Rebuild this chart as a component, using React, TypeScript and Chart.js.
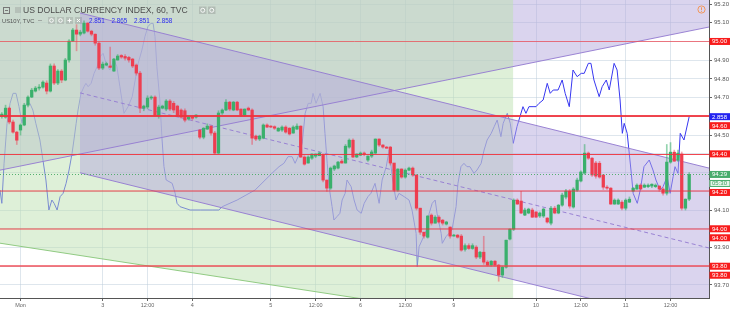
import React, { useEffect, useRef } from 'react';
import { Chart, registerables } from 'chart.js';

Chart.register(...registerables);

// ---- DXY hourly candles (bar index FIRST_BAR .. FIRST_BAR + n - 1) ----
const FIRST_BAR = -5;
const OPEN = [
  94.600, 94.596, 94.644, 94.570, 94.516, 94.527, 94.554, 94.660, 94.703, 94.735,
  94.751, 94.756, 94.778, 94.735, 94.869, 94.778, 94.842, 94.794, 94.901, 95.002,
  95.061, 95.039, 95.045, 95.098, 95.055, 95.039, 94.991, 94.858, 94.874, 94.869,
  94.842, 94.901, 94.925, 94.920, 94.915, 94.906, 94.874, 94.831, 94.644, 94.650,
  94.698, 94.703, 94.602, 94.644, 94.639, 94.682, 94.670, 94.655, 94.634, 94.630,
  94.586, 94.596, 94.596, 94.527, 94.489, 94.532, 94.548, 94.511, 94.404, 94.618,
  94.634, 94.676, 94.634, 94.676, 94.639, 94.607, 94.644, 94.634, 94.495, 94.479,
  94.484, 94.554, 94.548, 94.545, 94.522, 94.527, 94.543, 94.537, 94.511, 94.532,
  94.548, 94.383, 94.351, 94.377, 94.388, 94.390, 94.393, 94.260, 94.217, 94.319,
  94.324, 94.361, 94.351, 94.436, 94.473, 94.383, 94.393, 94.404, 94.367, 94.388,
  94.404, 94.479, 94.447, 94.436, 94.436, 94.351, 94.206, 94.319, 94.276, 94.313,
  94.324, 94.287, 94.110, 93.982, 93.955, 94.073, 94.030, 94.062, 94.046, 94.025,
  94.009, 93.961, 93.966, 93.961, 93.890, 93.910, 93.895, 93.902, 93.849, 93.875,
  93.822, 93.806, 93.827, 93.806, 93.753, 93.795, 93.945, 93.998, 94.153, 94.148,
  94.073, 94.084, 94.100, 94.090, 94.068, 94.068, 94.057, 94.030, 94.110, 94.084,
  94.126, 94.169, 94.201, 94.116, 94.206, 94.255, 94.297, 94.404, 94.377, 94.351,
  94.350, 94.287, 94.222, 94.217, 94.132, 94.132, 94.142, 94.110, 94.142, 94.201,
  94.212, 94.233, 94.222, 94.225, 94.228, 94.225, 94.228, 94.212, 94.190, 94.356,
  94.409, 94.367, 94.399, 94.110, 94.158,
];
const CLOSE = [
  94.612, 94.644, 94.570, 94.516, 94.473, 94.554, 94.660, 94.703, 94.740, 94.751,
  94.756, 94.783, 94.735, 94.869, 94.778, 94.842, 94.794, 94.901, 95.002, 95.061,
  95.039, 95.050, 95.098, 95.055, 95.039, 94.991, 94.858, 94.879, 94.882, 94.862,
  94.906, 94.922, 94.917, 94.911, 94.901, 94.869, 94.831, 94.644, 94.655, 94.698,
  94.703, 94.607, 94.650, 94.655, 94.682, 94.639, 94.634, 94.607, 94.596, 94.580,
  94.596, 94.590, 94.607, 94.489, 94.537, 94.548, 94.511, 94.404, 94.618, 94.634,
  94.676, 94.639, 94.676, 94.634, 94.607, 94.639, 94.634, 94.484, 94.479, 94.495,
  94.554, 94.543, 94.543, 94.537, 94.537, 94.543, 94.516, 94.506, 94.543, 94.548,
  94.383, 94.345, 94.383, 94.399, 94.399, 94.404, 94.260, 94.217, 94.324, 94.335,
  94.356, 94.351, 94.441, 94.473, 94.383, 94.399, 94.404, 94.399, 94.388, 94.410,
  94.479, 94.447, 94.436, 94.430, 94.351, 94.206, 94.319, 94.276, 94.313, 94.324,
  94.287, 94.110, 93.982, 93.961, 94.068, 94.030, 94.062, 94.036, 94.030, 94.036,
  93.961, 93.966, 93.955, 93.886, 93.910, 93.895, 93.910, 93.849, 93.875, 93.822,
  93.806, 93.827, 93.806, 93.753, 93.795, 93.939, 93.998, 94.153, 94.132, 94.084,
  94.100, 94.105, 94.062, 94.062, 94.084, 94.105, 94.036, 94.110, 94.084, 94.126,
  94.180, 94.201, 94.121, 94.212, 94.260, 94.303, 94.404, 94.377, 94.287, 94.281,
  94.276, 94.222, 94.217, 94.132, 94.153, 94.153, 94.110, 94.153, 94.158, 94.217,
  94.233, 94.212, 94.233, 94.233, 94.238, 94.233, 94.212, 94.190, 94.356, 94.409,
  94.361, 94.404, 94.110, 94.158, 94.290,
];
const HIGH = [
  94.62, 94.66, 94.65, 94.58, 94.52, 94.56, 94.67, 94.71, 94.75, 94.76,
  94.77, 94.79, 94.79, 94.88, 94.88, 94.85, 94.85, 94.91, 95.01, 95.07,
  95.09, 95.06, 95.11, 95.10, 95.06, 95.04, 95.00, 94.89, 94.89, 94.97,
  94.91, 94.93, 94.93, 94.93, 94.92, 94.91, 94.88, 94.84, 94.66, 94.71,
  94.71, 94.71, 94.66, 94.66, 94.69, 94.69, 94.68, 94.66, 94.64, 94.64,
  94.60, 94.60, 94.61, 94.53, 94.54, 94.56, 94.55, 94.52, 94.63, 94.64,
  94.69, 94.68, 94.68, 94.68, 94.64, 94.64, 94.65, 94.64, 94.50, 94.50,
  94.56, 94.56, 94.55, 94.55, 94.54, 94.55, 94.55, 94.54, 94.55, 94.56,
  94.55, 94.39, 94.39, 94.40, 94.40, 94.41, 94.40, 94.26, 94.33, 94.34,
  94.36, 94.37, 94.45, 94.48, 94.48, 94.40, 94.41, 94.41, 94.39, 94.42,
  94.48, 94.48, 94.45, 94.44, 94.44, 94.35, 94.32, 94.32, 94.32, 94.33,
  94.33, 94.29, 94.11, 93.98, 94.07, 94.08, 94.07, 94.07, 94.05, 94.04,
  94.01, 93.97, 93.97, 93.97, 93.92, 93.92, 93.92, 93.91, 93.88, 93.96,
  93.83, 93.83, 93.83, 93.81, 93.80, 93.94, 94.00, 94.16, 94.16, 94.20,
  94.11, 94.11, 94.11, 94.09, 94.09, 94.11, 94.06, 94.12, 94.12, 94.13,
  94.19, 94.21, 94.21, 94.22, 94.27, 94.31, 94.45, 94.41, 94.38, 94.36,
  94.36, 94.29, 94.23, 94.22, 94.16, 94.16, 94.15, 94.16, 94.17, 94.22,
  94.24, 94.24, 94.24, 94.24, 94.24, 94.24, 94.23, 94.22, 94.45, 94.46,
  94.42, 94.42, 94.41, 94.16, 94.30,
];
const LOW = [
  94.59, 94.59, 94.56, 94.51, 94.45, 94.50, 94.55, 94.65, 94.70, 94.73,
  94.74, 94.75, 94.72, 94.73, 94.77, 94.77, 94.78, 94.79, 94.89, 95.00,
  94.95, 95.03, 95.04, 95.05, 95.03, 94.98, 94.85, 94.85, 94.87, 94.86,
  94.84, 94.90, 94.91, 94.90, 94.89, 94.86, 94.82, 94.62, 94.63, 94.64,
  94.69, 94.60, 94.59, 94.64, 94.63, 94.63, 94.62, 94.60, 94.59, 94.57,
  94.58, 94.58, 94.59, 94.48, 94.48, 94.53, 94.50, 94.40, 94.40, 94.61,
  94.63, 94.63, 94.63, 94.63, 94.60, 94.60, 94.63, 94.45, 94.47, 94.47,
  94.48, 94.54, 94.54, 94.53, 94.52, 94.52, 94.51, 94.50, 94.51, 94.53,
  94.38, 94.34, 94.35, 94.37, 94.38, 94.39, 94.25, 94.20, 94.21, 94.31,
  94.32, 94.35, 94.35, 94.43, 94.38, 94.38, 94.39, 94.39, 94.36, 94.38,
  94.40, 94.44, 94.43, 94.43, 94.34, 94.20, 94.20, 94.27, 94.27, 94.31,
  94.28, 94.10, 93.97, 93.95, 93.95, 94.02, 94.03, 94.03, 94.02, 94.02,
  93.95, 93.96, 93.95, 93.88, 93.88, 93.89, 93.89, 93.84, 93.84, 93.81,
  93.80, 93.80, 93.80, 93.72, 93.74, 93.79, 93.94, 93.99, 94.13, 94.08,
  94.07, 94.08, 94.06, 94.06, 94.06, 94.06, 94.03, 94.02, 94.08, 94.08,
  94.12, 94.16, 94.11, 94.11, 94.20, 94.25, 94.29, 94.37, 94.28, 94.27,
  94.27, 94.21, 94.21, 94.13, 94.13, 94.13, 94.10, 94.10, 94.14, 94.20,
  94.21, 94.21, 94.22, 94.22, 94.22, 94.22, 94.20, 94.18, 94.18, 94.35,
  94.36, 94.36, 94.10, 94.10, 94.15,
];

// ---- US10Y overlay (own hidden scale) ----
const US10Y_BARS = [
  -5.5, -5.0, -4.4, -3.6, -2.8, -2.0, -1.2, -0.4, 0.4, 1.2,
  1.7, 2.5, 3.3, 4.1, 5.2, 6.0, 6.8, 7.6, 8.4, 9.0,
  9.8, 10.6, 11.4, 12.2, 13.0, 13.8, 14.3, 14.9, 15.4, 16.2,
  17.0, 17.5, 18.1, 18.9, 19.7, 20.5, 21.3, 22.1, 22.9, 23.9,
  25.0, 25.8, 26.6, 27.7, 28.8, 29.9, 30.7, 31.5, 32.5, 33.3,
  34.1, 34.9, 35.5, 36.0, 36.5, 37.3, 37.9, 38.4, 39.0, 40.6,
  41.4, 41.9, 42.7, 45.4, 48.1, 51.3, 53.1, 54.0, 58.0, 62.8,
  67.3, 69.2, 70.5, 71.6, 72.7, 73.5, 74.3, 75.4, 76.2, 77.0,
  77.8, 78.3, 79.1, 80.2, 81.0, 81.5, 82.1, 82.6, 83.4, 83.9,
  84.7, 85.5, 86.1, 86.9, 87.4, 88.5, 89.3, 90.1, 91.2, 92.0,
  93.0, 93.8, 94.9, 96.0, 96.8, 97.9, 98.7, 99.5, 100.5, 101.3,
  102.7, 104.0, 104.8, 105.9, 106.2, 106.7, 107.5, 108.6, 109.4, 110.2,
  111.0, 111.5, 112.6, 112.9, 113.9, 114.7, 115.5, 116.6, 117.1, 117.9,
  118.7, 119.5, 120.3, 121.4, 122.2, 123.3, 124.1, 124.9, 126.0, 126.8,
  127.6, 128.6, 129.2, 130.3, 131.1, 131.9, 132.9, 133.7, 134.5, 135.3,
  136.1, 137.2, 138.0, 138.8, 139.9, 141.0, 141.8, 142.6, 143.9, 145.0,
  145.8, 146.9, 147.9, 149.0, 150.1, 150.9, 152.0, 152.7, 153.5, 154.9,
  155.7, 156.8, 157.6, 158.9, 159.7, 160.5, 161.1, 161.6, 162.4, 163.5,
  164.0, 165.1, 165.9, 166.9, 168.3, 169.3, 170.1, 171.2, 172.0, 173.1,
  173.9, 174.7, 175.2, 176.0, 176.6, 177.6, 179.0,
];
const US10Y_VALUES = [
  2.836, 2.832, 2.844, 2.856, 2.862, 2.865, 2.865, 2.861, 2.856, 2.861,
  2.862, 2.862, 2.860, 2.856, 2.851, 2.845, 2.839, 2.830, 2.833, 2.832,
  2.830, 2.834, 2.835, 2.838, 2.842, 2.847, 2.851, 2.856, 2.860, 2.865,
  2.867, 2.868, 2.867, 2.868, 2.871, 2.873, 2.876, 2.877, 2.874, 2.872,
  2.875, 2.873, 2.867, 2.859, 2.861, 2.864, 2.869, 2.874, 2.878, 2.882,
  2.885, 2.886, 2.886, 2.882, 2.873, 2.863, 2.851, 2.843, 2.839, 2.838,
  2.835, 2.832, 2.831, 2.830, 2.830, 2.830, 2.830, 2.831, 2.833, 2.836,
  2.841, 2.843, 2.844, 2.846, 2.846, 2.844, 2.846, 2.850, 2.859, 2.862,
  2.862, 2.865, 2.862, 2.865, 2.861, 2.853, 2.844, 2.837, 2.831, 2.827,
  2.828, 2.829, 2.833, 2.835, 2.839, 2.837, 2.833, 2.830, 2.829, 2.832,
  2.834, 2.835, 2.838, 2.832, 2.839, 2.843, 2.848, 2.840, 2.833, 2.835,
  2.834, 2.833, 2.830, 2.823, 2.813, 2.819, 2.821, 2.824, 2.829, 2.832,
  2.833, 2.829, 2.823, 2.820, 2.822, 2.823, 2.824, 2.831, 2.838, 2.843,
  2.844, 2.843, 2.843, 2.841, 2.842, 2.844, 2.848, 2.851, 2.853, 2.855,
  2.857, 2.852, 2.856, 2.859, 2.856, 2.850, 2.855, 2.858, 2.861, 2.859,
  2.861, 2.861, 2.861, 2.862, 2.863, 2.868, 2.865, 2.866, 2.866, 2.869,
  2.865, 2.861, 2.872, 2.870, 2.871, 2.871, 2.874, 2.874, 2.869, 2.864,
  2.867, 2.869, 2.866, 2.874, 2.872, 2.863, 2.853, 2.856, 2.853, 2.841,
  2.835, 2.832, 2.836, 2.843, 2.845, 2.842, 2.839, 2.836, 2.837, 2.840,
  2.835, 2.840, 2.843, 2.841, 2.853, 2.851, 2.858,
];
const US10Y_LEGEND = ['2.851', '2.865', '2.851', '2.858'];
const US10Y_LAST = 2.858;

// ---- axes ----
const X_MIN = -5.49;
const X_MAX = 184.3;
const PRICE_MIN = 93.6304;
const PRICE_MAX = 95.2214;
const YIELD_MIN = 2.8036;
const YIELD_MAX = 2.893;
const X_TICK_BARS = [0, 22, 34, 46, 67, 79, 91, 103, 116, 138, 150, 162, 174];
const X_TICK_LABELS = ['Mon', '3', '12:00', '4', '5', '12:00', '6', '12:00', '9', '10', '12:00', '11', '12:00'];
const Y_TICKS = [93.7, 93.8, 93.9, 94.0, 94.1, 94.2, 94.3, 94.4, 94.5, 94.6, 94.7, 94.8, 94.9, 95.0, 95.1, 95.2];
const Y_TICK_LABELS = ['93.70', '', '93.90', '', '94.10', '', '', '', '94.50', '', '94.70', '94.80', '94.90', '', '95.10', '95.20'];

// ---- drawings ----
const LEVELS = [95.0, 94.6, 94.4, 94.2, 94.0, 93.8];
const LEVEL_LABELS = ['95.00', '94.60', '94.40', '94.20', '94.00', '94.00', '93.80', '93.80'];
const LEVEL_LABEL_VALUES = [95.0, 94.6, 94.4, 94.2, 94.0, 94.0, 93.8, 93.8];
const LAST_PRICE = 94.29;
const COUNTDOWN = '05:30';
// descending parallel channel: upper line from (bar, price) to (bar, price), width in price
const CHANNEL_BARS = [15.93, 184.3];
const CHANNEL_UPPER = [95.152, 94.324];
const CHANNEL_WIDTH = 0.853;
// rising trend line (purple zone above it)
const RISING_BARS = [-5.49, 184.3];
const RISING_PRICES = [94.313, 95.077];
// green zone: left of its end bar, above its lower boundary line
const GREEN_BARS = [-5.49, 131.86];
const GREEN_LOWER = [93.923, 93.502];

const TITLE = 'US DOLLAR CURRENCY INDEX, 60, TVC';
const SUBTITLE = 'US10Y, TVC';

const FONT = "'Liberation Sans', Arial, sans-serif";
const RED = 'rgb(238,62,80)';
const GREEN = 'rgb(58,176,108)';
const PURPLE_FILL = 'rgba(181,169,222,0.5)';
const GREEN_FILL = 'rgba(190,226,178,0.5)';

export default function App() {
  const ref = useRef<HTMLCanvasElement>(null);

  useEffect(() => {
    const canvas = ref.current;
    if (!canvas) return;
    const bars = OPEN.map((_, k) => FIRST_BAR + k);
    const up = OPEN.map((o, k) => CLOSE[k] >= o);

    const poly = (ctx: CanvasRenderingContext2D, pts: number[][]) => {
      ctx.beginPath();
      pts.forEach((p, k) => (k ? ctx.lineTo(p[0], p[1]) : ctx.moveTo(p[0], p[1])));
      ctx.closePath();
      ctx.fill();
    };
    const seg = (ctx: CanvasRenderingContext2D, x1: number, y1: number, x2: number, y2: number) => {
      ctx.beginPath();
      ctx.moveTo(x1, y1);
      ctx.lineTo(x2, y2);
      ctx.stroke();
    };

    const overlay = {
      id: 'overlay',
      afterDatasetDraw(chart: any, args: any) {
        if (args.index !== 2) return;
        const { ctx, chartArea: a, scales } = chart;
        const X = (v: number) => scales.x.getPixelForValue(v);
        const Y = (v: number) => scales.y.getPixelForValue(v);
        ctx.save();
        ctx.beginPath();
        ctx.rect(a.left, a.top, a.right - a.left, a.bottom - a.top);
        ctx.clip();
        // purple zone above rising line
        ctx.fillStyle = PURPLE_FILL;
        const rx1 = X(RISING_BARS[0]), rx2 = X(RISING_BARS[1]);
        const ry1 = Y(RISING_PRICES[0]), ry2 = Y(RISING_PRICES[1]);
        poly(ctx, [[rx1, a.top], [rx2, a.top], [rx2, ry2], [rx1, ry1]]);
        // green zone
        ctx.fillStyle = GREEN_FILL;
        const gx1 = X(GREEN_BARS[0]), gx2 = X(GREEN_BARS[1]);
        const gy1 = Y(GREEN_LOWER[0]), gy2 = Y(GREEN_LOWER[1]);
        poly(ctx, [[gx1, a.top], [gx2, a.top], [gx2, gy2], [gx1, gy1]]);
        // channel
        ctx.fillStyle = PURPLE_FILL;
        const cx1 = X(CHANNEL_BARS[0]), cx2 = X(CHANNEL_BARS[1]);
        const u1 = Y(CHANNEL_UPPER[0]), u2 = Y(CHANNEL_UPPER[1]);
        const l1 = Y(CHANNEL_UPPER[0] - CHANNEL_WIDTH), l2 = Y(CHANNEL_UPPER[1] - CHANNEL_WIDTH);
        const m1 = Y(CHANNEL_UPPER[0] - CHANNEL_WIDTH / 2), m2 = Y(CHANNEL_UPPER[1] - CHANNEL_WIDTH / 2);
        poly(ctx, [[cx1, u1], [cx2, u2], [cx2, l2], [cx1, l1]]);
        // strokes
        ctx.lineWidth = 1;
        ctx.strokeStyle = 'rgba(150,125,210,0.95)';
        seg(ctx, rx1, ry1, rx2, ry2);
        seg(ctx, cx1, u1, cx2, u2);
        seg(ctx, cx1, l1, cx2, l2);
        ctx.setLineDash([4, 3]);
        seg(ctx, cx1, m1, cx2, m2);
        ctx.setLineDash([]);
        ctx.strokeStyle = 'rgba(140,200,125,0.95)';
        seg(ctx, gx1, gy1, gx2, gy2);
        ctx.restore();
      },
      afterDatasetsDraw(chart: any) {
        const { ctx, chartArea: a, scales } = chart;
        const Y = (v: number) => scales.y.getPixelForValue(v);
        ctx.save();
        ctx.beginPath();
        ctx.rect(a.left, a.top, a.right - a.left, a.bottom - a.top);
        ctx.clip();
        const widths = [1, 2, 1, 1.2, 1.2, 2];
        LEVELS.forEach((v, k) => {
          ctx.lineWidth = widths[k];
          ctx.strokeStyle = k === 0 || k === 5 ? 'rgba(240,70,80,0.7)' : 'rgba(240,50,60,0.9)';
          const y = Math.round(Y(v)) + (widths[k] === 1 ? 0.5 : 0);
          seg(ctx, a.left, y, a.right, y);
        });
        ctx.setLineDash([1, 2]);
        ctx.lineWidth = 1;
        ctx.strokeStyle = 'rgba(70,170,100,0.9)';
        const ly = Math.round(Y(LAST_PRICE)) + 0.5;
        seg(ctx, a.left, ly, a.right, ly);
        ctx.restore();
      },
      afterDraw(chart: any) {
        const { ctx, chartArea: a, scales } = chart;
        const Y = (v: number) => scales.y.getPixelForValue(v);
        ctx.save();
        // y tick labels
        ctx.font = `6px ${FONT}`;
        ctx.textBaseline = 'middle';
        ctx.textAlign = 'left';
        ctx.fillStyle = '#555';
        Y_TICKS.forEach((v, k) => {
          if (Y_TICK_LABELS[k]) ctx.fillText(Y_TICK_LABELS[k], a.right + 5, Y(v));
        });
        // right axis price labels (the overlay's label takes priority on ties)
        type L = { y: number; text: string; kind: string; pri: number };
        const items: L[] = [];
        items.push({ y: scales.y2.getPixelForValue(US10Y_LAST), text: US10Y_LEGEND[3], kind: 'blue', pri: -2 });
        LEVEL_LABEL_VALUES.forEach((v, k) => items.push({ y: Y(v), text: LEVEL_LABELS[k], kind: 'red', pri: 0 }));
        items.push({ y: Y(LAST_PRICE), text: LAST_PRICE.toFixed(2), kind: 'green', pri: 0 });
        items.push({ y: Y(LAST_PRICE) + 0.1, text: COUNTDOWN, kind: 'timer', pri: 0 });
        items.sort((p, q) => p.y + p.pri - (q.y + q.pri));
        for (let k = 1; k < items.length; k++) {
          if (items[k].y - items[k - 1].y < 9) items[k].y = items[k - 1].y + 9;
        }
        items.forEach((it) => {
          const bx = a.right + 0.5, bw = 21, bh = 7;
          const by = it.y - bh / 2;
          let bg = '#f81c1c', fg = '#fff';
          if (it.kind === 'blue') bg = '#2323f0';
          if (it.kind === 'green') bg = 'rgb(72,172,108)';
          if (it.kind === 'timer') { bg = 'rgb(228,244,232)'; fg = 'rgb(60,160,95)'; }
          ctx.fillStyle = bg;
          ctx.fillRect(bx, by, bw, bh);
          if (it.kind === 'timer') {
            ctx.strokeStyle = 'rgb(72,172,108)';
            ctx.lineWidth = 1;
            ctx.strokeRect(bx + 0.5, by + 0.5, bw - 1, bh - 1);
          }
          ctx.fillStyle = fg;
          ctx.font = `6px ${FONT}`;
          ctx.fillText(it.text, bx + 2.5, it.y + 0.3);
        });
        // title row
        ctx.strokeStyle = '#777';
        ctx.lineWidth = 1;
        ctx.strokeRect(3.5, 7.5, 6, 6);
        ctx.beginPath();
        ctx.moveTo(5, 10.5);
        ctx.lineTo(8, 10.5);
        ctx.stroke();
        ctx.fillStyle = 'rgba(120,120,120,0.25)';
        ctx.fillRect(15, 7, 6, 6);
        ctx.fillStyle = '#4e4e4e';
        ctx.font = `8.6px ${FONT}`;
        ctx.fillText(TITLE, 23, 10.8);
        [199, 208].forEach((x) => {
          ctx.fillStyle = 'rgba(120,120,120,0.3)';
          ctx.fillRect(x, 6.5, 7.5, 7.5);
          ctx.strokeStyle = 'rgba(255,255,255,0.9)';
          ctx.beginPath();
          ctx.arc(x + 3.75, 10.25, 2, 0, Math.PI * 2);
          ctx.stroke();
        });
        // subtitle row
        ctx.fillStyle = '#555';
        ctx.font = `5.8px ${FONT}`;
        ctx.fillText(SUBTITLE, 2, 21);
        ctx.strokeStyle = 'rgba(120,120,120,0.5)';
        ctx.beginPath();
        ctx.moveTo(38, 20.5);
        ctx.lineTo(42, 20.5);
        ctx.stroke();
        [48, 57, 66, 75].forEach((x, k) => {
          ctx.fillStyle = 'rgba(120,120,120,0.25)';
          ctx.fillRect(x, 17, 7, 7);
          ctx.strokeStyle = 'rgba(255,255,255,0.95)';
          ctx.beginPath();
          if (k < 2) ctx.arc(x + 3.5, 20.5, 1.8, 0, Math.PI * 2);
          else if (k === 2) { ctx.moveTo(x + 1.5, 20.5); ctx.lineTo(x + 5.5, 20.5); ctx.moveTo(x + 3.5, 18.5); ctx.lineTo(x + 3.5, 22.5); }
          else { ctx.moveTo(x + 2, 19); ctx.lineTo(x + 5, 22); ctx.moveTo(x + 5, 19); ctx.lineTo(x + 2, 22); }
          ctx.stroke();
        });
        ctx.fillStyle = '#2a2af0';
        ctx.font = `6.3px ${FONT}`;
        US10Y_LEGEND.forEach((t, k) => ctx.fillText(t, 89 + k * 22.5, 21));
        // warning icon
        ctx.strokeStyle = 'rgb(242,150,90)';
        ctx.lineWidth = 1;
        ctx.beginPath();
        ctx.arc(701.5, 9.5, 3.6, 0, Math.PI * 2);
        ctx.stroke();
        ctx.fillStyle = 'rgb(242,150,90)';
        ctx.fillRect(701, 7.3, 1, 2.6);
        ctx.fillRect(701, 10.8, 1, 1);
        ctx.restore();
      },
    };

    const chart = new Chart(canvas, {
      type: 'bar',
      data: {
        datasets: [
          {
            label: 'body',
            data: bars.map((x, k) => ({ x, y: [OPEN[k], CLOSE[k]] })) as any,
            backgroundColor: up.map((u) => (u ? GREEN : RED)),
            barThickness: 2.6,
            grouped: false,
            minBarLength: 1,
            order: 1,
          } as any,
          {
            label: 'wick',
            data: bars.map((x, k) => ({ x, y: [LOW[k], HIGH[k]] })) as any,
            backgroundColor: up.map((u) => (u ? 'rgba(58,176,108,0.55)' : 'rgba(238,62,80,0.45)')),
            barThickness: 1,
            grouped: false,
            order: 2,
          } as any,
          {
            type: 'line',
            label: 'US10Y',
            data: US10Y_BARS.map((x, k) => ({ x, y: US10Y_VALUES[k] })) as any,
            yAxisID: 'y2',
            borderColor: 'rgb(55,55,240)',
            borderWidth: 1,
            pointRadius: 0,
            tension: 0,
            order: 3,
          } as any,
        ],
      },
      options: {
        animation: false,
        responsive: false,
        devicePixelRatio: 1,
        events: [],
        layout: { padding: 0 },
        plugins: { legend: { display: false }, tooltip: { enabled: false } },
        scales: {
          x: {
            type: 'linear',
            min: X_MIN,
            max: X_MAX,
            offset: false,
            bounds: 'data',
            afterBuildTicks: (s: any) => {
              s.ticks = X_TICK_BARS.map((v) => ({ value: v }));
            },
            afterFit: (s: any) => {
              s.height = 11;
            },
            ticks: {
              autoSkip: false,
              maxRotation: 0,
              minRotation: 0,
              padding: 1,
              color: '#666',
              font: { size: 5.5, family: FONT },
              callback: (_v: any, i: number) => X_TICK_LABELS[i],
            },
            grid: { offset: false, color: 'rgba(190,205,220,0.5)', tickColor: '#666', tickLength: 3 },
            border: { color: '#555' },
          } as any,
          y: {
            type: 'linear',
            position: 'right',
            min: PRICE_MIN,
            max: PRICE_MAX,
            bounds: 'data',
            afterBuildTicks: (s: any) => {
              s.ticks = Y_TICKS.map((v) => ({ value: v }));
            },
            afterFit: (s: any) => {
              s.width = 21;
            },
            ticks: { display: false },
            grid: { color: 'rgba(190,205,220,0.5)', tickColor: '#666', tickLength: 3 },
            border: { color: '#555' },
          } as any,
          y2: {
            type: 'linear',
            display: false,
            min: YIELD_MIN,
            max: YIELD_MAX,
          },
        },
      },
      plugins: [overlay],
    });
    return () => chart.destroy();
  }, []);

  return (
    <div style={{ position: 'fixed', left: 0, top: 0, width: 730, height: 309, background: '#fff' }}>
      <canvas ref={ref} width={730} height={309} style={{ display: 'block' }} />
    </div>
  );
}
